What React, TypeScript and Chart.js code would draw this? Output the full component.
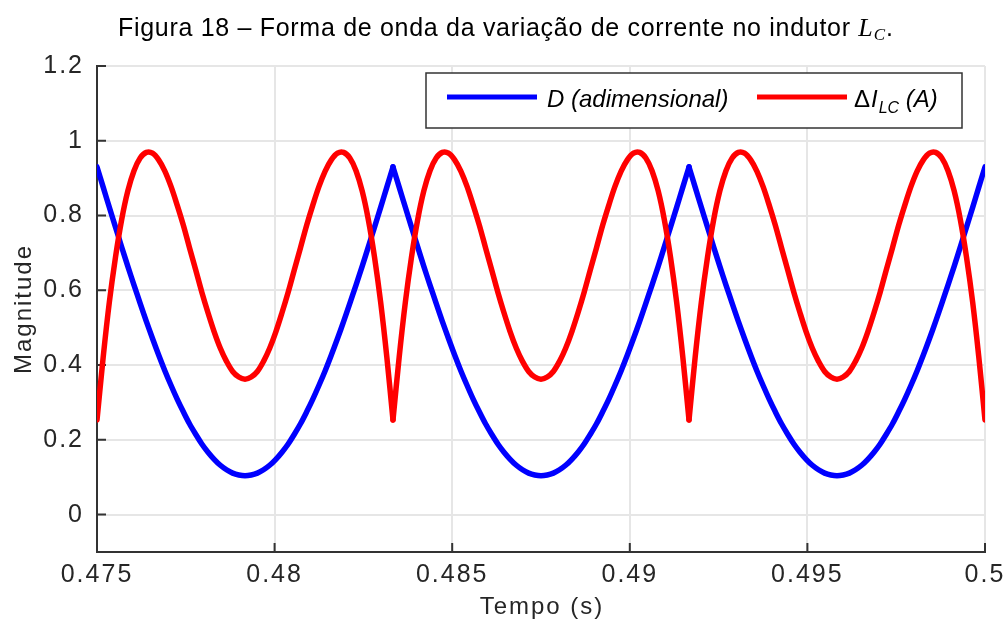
import React, { useEffect, useRef } from "react";
import { Chart, registerables } from "chart.js";

Chart.register(...registerables);

// Sample instants (s), three 1/120 s cycles
const TIME = [
  0.475000, 0.475174, 0.475347, 0.475521, 0.475694, 0.475868, 0.476042, 0.476215,
  0.476389, 0.476563, 0.476736, 0.476910, 0.477083, 0.477257, 0.477431, 0.477604,
  0.477778, 0.477951, 0.478125, 0.478299, 0.478472, 0.478646, 0.478819, 0.478993,
  0.479167, 0.479340, 0.479514, 0.479688, 0.479861, 0.480035, 0.480208, 0.480382,
  0.480556, 0.480729, 0.480903, 0.481076, 0.481250, 0.481424, 0.481597, 0.481771,
  0.481944, 0.482118, 0.482292, 0.482465, 0.482639, 0.482813, 0.482986, 0.483160,
  0.483333,
  0.483507, 0.483681, 0.483854, 0.484028, 0.484201, 0.484375, 0.484549, 0.484722,
  0.484896, 0.485069, 0.485243, 0.485417, 0.485590, 0.485764, 0.485938, 0.486111,
  0.486285, 0.486458, 0.486632, 0.486806, 0.486979, 0.487153, 0.487326, 0.487500,
  0.487674, 0.487847, 0.488021, 0.488194, 0.488368, 0.488542, 0.488715, 0.488889,
  0.489063, 0.489236, 0.489410, 0.489583, 0.489757, 0.489931, 0.490104, 0.490278,
  0.490451, 0.490625, 0.490799, 0.490972, 0.491146, 0.491319, 0.491493, 0.491667,
  0.491840, 0.492014, 0.492188, 0.492361, 0.492535, 0.492708, 0.492882, 0.493056,
  0.493229, 0.493403, 0.493576, 0.493750, 0.493924, 0.494097, 0.494271, 0.494444,
  0.494618, 0.494792, 0.494965, 0.495139, 0.495313, 0.495486, 0.495660, 0.495833,
  0.496007, 0.496181, 0.496354, 0.496528, 0.496701, 0.496875, 0.497049, 0.497222,
  0.497396, 0.497569, 0.497743, 0.497917, 0.498090, 0.498264, 0.498438, 0.498611,
  0.498785, 0.498958, 0.499132, 0.499306, 0.499479, 0.499653, 0.499826, 0.500000,
];

// Duty cycle D (dimensionless)
const D_VALUES = [
  0.930,
  0.876, 0.822, 0.769, 0.716, 0.664, 0.614, 0.565, 0.517,
  0.471, 0.427, 0.385, 0.346, 0.309, 0.275, 0.243, 0.215,
  0.189, 0.167, 0.148, 0.132, 0.120, 0.111, 0.106, 0.104,
  0.106, 0.111, 0.120, 0.132, 0.148, 0.167, 0.189, 0.215,
  0.243, 0.275, 0.309, 0.346, 0.385, 0.427, 0.471, 0.517,
  0.565, 0.614, 0.664, 0.716, 0.769, 0.822, 0.876, 0.930,
  0.876, 0.822, 0.769, 0.716, 0.664, 0.614, 0.565, 0.517,
  0.471, 0.427, 0.385, 0.346, 0.309, 0.275, 0.243, 0.215,
  0.189, 0.167, 0.148, 0.132, 0.120, 0.111, 0.106, 0.104,
  0.106, 0.111, 0.120, 0.132, 0.148, 0.167, 0.189, 0.215,
  0.243, 0.275, 0.309, 0.346, 0.385, 0.427, 0.471, 0.517,
  0.565, 0.614, 0.664, 0.716, 0.769, 0.822, 0.876, 0.930,
  0.876, 0.822, 0.769, 0.716, 0.664, 0.614, 0.565, 0.517,
  0.471, 0.427, 0.385, 0.346, 0.309, 0.275, 0.243, 0.215,
  0.189, 0.167, 0.148, 0.132, 0.120, 0.111, 0.106, 0.104,
  0.106, 0.111, 0.120, 0.132, 0.148, 0.167, 0.189, 0.215,
  0.243, 0.275, 0.309, 0.346, 0.385, 0.427, 0.471, 0.517,
  0.565, 0.614, 0.664, 0.716, 0.769, 0.822, 0.876, 0.930,
];

// Inductor current ripple ΔI_LC (A)
const DI_VALUES = [
  0.253,
  0.421, 0.568, 0.689, 0.789, 0.866, 0.920, 0.954, 0.969,
  0.967, 0.949, 0.919, 0.878, 0.828, 0.774, 0.714, 0.655,
  0.595, 0.540, 0.489, 0.445, 0.410, 0.383, 0.368, 0.362,
  0.368, 0.383, 0.410, 0.445, 0.489, 0.540, 0.595, 0.655,
  0.714, 0.774, 0.828, 0.878, 0.919, 0.949, 0.967, 0.969,
  0.954, 0.920, 0.866, 0.789, 0.689, 0.568, 0.421, 0.253,
  0.421, 0.568, 0.689, 0.789, 0.866, 0.920, 0.954, 0.969,
  0.967, 0.949, 0.919, 0.878, 0.828, 0.774, 0.714, 0.655,
  0.595, 0.540, 0.489, 0.445, 0.410, 0.383, 0.368, 0.362,
  0.368, 0.383, 0.410, 0.445, 0.489, 0.540, 0.595, 0.655,
  0.714, 0.774, 0.828, 0.878, 0.919, 0.949, 0.967, 0.969,
  0.954, 0.920, 0.866, 0.789, 0.689, 0.568, 0.421, 0.253,
  0.421, 0.568, 0.689, 0.789, 0.866, 0.920, 0.954, 0.969,
  0.967, 0.949, 0.919, 0.878, 0.828, 0.774, 0.714, 0.655,
  0.595, 0.540, 0.489, 0.445, 0.410, 0.383, 0.368, 0.362,
  0.368, 0.383, 0.410, 0.445, 0.489, 0.540, 0.595, 0.655,
  0.714, 0.774, 0.828, 0.878, 0.919, 0.949, 0.967, 0.969,
  0.954, 0.920, 0.866, 0.789, 0.689, 0.568, 0.421, 0.253,
];

// Sample indices of the commutation instants (sharp corners of both waveforms)
const CORNER_INDICES = [0, 48, 96, 144];

const X_TICKS = [0.475, 0.48, 0.485, 0.49, 0.495, 0.5];
const X_TICK_LABELS = ["0.475", "0.48", "0.485", "0.49", "0.495", "0.5"];
const Y_TICKS = [0, 0.2, 0.4, 0.6, 0.8, 1, 1.2];
const Y_TICK_LABELS = ["0", "0.2", "0.4", "0.6", "0.8", "1", "1.2"];

const SANS = '"Liberation Sans", Arial, Helvetica, sans-serif';
const SERIF = '"Liberation Serif", "Times New Roman", serif';
const AXIS_COLOR = "#333333";
const TEXT_COLOR = "#262626";

// One smooth arc per cycle so the corners stay sharp
function arcs(values: number[], label: string, color: string, order: number) {
  const out: any[] = [];
  for (let c = 0; c < CORNER_INDICES.length - 1; c++) {
    const a = CORNER_INDICES[c];
    const b = CORNER_INDICES[c + 1];
    out.push({
      label,
      data: TIME.slice(a, b + 1).map((t, i) => ({ x: t, y: values[a + i] })),
      borderColor: color,
      borderWidth: 5.5,
      pointRadius: 0,
      tension: 0.35,
      fill: false,
      borderJoinStyle: "round",
      borderCapStyle: "round",
      order,
    });
  }
  return out;
}

const decorations = {
  id: "decorations",
  beforeDraw(chart: any) {
    chart.ctx.letterSpacing = "2px";
  },
  beforeDatasetsDraw(chart: any) {
    const { ctx, chartArea, scales } = chart;
    const len = 9;
    ctx.save();
    ctx.strokeStyle = AXIS_COLOR;
    ctx.lineWidth = 2;
    ctx.beginPath();
    for (const v of Y_TICKS) {
      const y = scales.y.getPixelForValue(v);
      ctx.moveTo(chartArea.left, y);
      ctx.lineTo(chartArea.left + len, y);
    }
    for (const v of X_TICKS) {
      const x = scales.x.getPixelForValue(v);
      ctx.moveTo(x, chartArea.bottom);
      ctx.lineTo(x, chartArea.bottom - len);
    }
    ctx.stroke();
    ctx.restore();
  },
  afterDraw(chart: any) {
    const { ctx, chartArea } = chart;
    ctx.save();

    // Axis titles
    ctx.letterSpacing = "2px";
    ctx.fillStyle = TEXT_COLOR;
    ctx.font = `24px ${SANS}`;
    ctx.textAlign = "center";
    ctx.textBaseline = "alphabetic";
    ctx.fillText("Tempo (s)", (chartArea.left + chartArea.right) / 2 + 1, 614);
    ctx.save();
    ctx.translate(31, (chartArea.top + chartArea.bottom) / 2);
    ctx.rotate(-Math.PI / 2);
    ctx.fillText("Magnitude", 0, 0);
    ctx.restore();

    // Figure caption
    ctx.textAlign = "left";
    ctx.fillStyle = "#000000";
    const capMain = "Figura 18 \u2013 Forma de onda da varia\u00e7\u00e3o de corrente no indutor ";
    const capSpacing = "0.7px";
    ctx.letterSpacing = capSpacing;
    ctx.font = `25px ${SANS}`;
    const wMain = ctx.measureText(capMain).width;
    ctx.letterSpacing = "0px";
    ctx.font = `italic 26px ${SERIF}`;
    const wL = ctx.measureText("L").width;
    ctx.font = `italic 17px ${SERIF}`;
    const wC = ctx.measureText("C").width;
    ctx.font = `25px ${SANS}`;
    const wDot = ctx.measureText(".").width;
    const total = wMain + wL + 1 + wC + wDot;
    let cx = 505 - total / 2;
    const base = 36;
    ctx.letterSpacing = capSpacing;
    ctx.font = `25px ${SANS}`;
    ctx.fillText(capMain, cx, base);
    cx += wMain;
    ctx.letterSpacing = "0px";
    ctx.font = `italic 26px ${SERIF}`;
    ctx.fillText("L", cx, base);
    cx += wL + 1;
    ctx.font = `italic 17px ${SERIF}`;
    ctx.fillText("C", cx, base + 4);
    cx += wC;
    ctx.font = `25px ${SANS}`;
    ctx.fillText(".", cx + 1, base);

    // Legend
    const bw = 536;
    const bh = 55;
    const bx = chartArea.right - 23 - bw;
    const by = chartArea.top + 7;
    ctx.fillStyle = "#ffffff";
    ctx.fillRect(bx, by, bw, bh);
    ctx.strokeStyle = AXIS_COLOR;
    ctx.lineWidth = 1.5;
    ctx.strokeRect(bx, by, bw, bh);

    const ly = by + 24;
    ctx.lineWidth = 5;
    ctx.lineCap = "butt";
    ctx.strokeStyle = "#0000ff";
    ctx.beginPath();
    ctx.moveTo(bx + 21, ly);
    ctx.lineTo(bx + 111, ly);
    ctx.stroke();
    ctx.strokeStyle = "#ff0000";
    ctx.beginPath();
    ctx.moveTo(bx + 331, ly);
    ctx.lineTo(bx + 421, ly);
    ctx.stroke();

    const tb = by + 34;
    ctx.fillStyle = "#000000";
    ctx.font = `italic 24px ${SANS}`;
    ctx.fillText("D (adimensional)", bx + 121, tb);

    let tx = bx + 428;
    ctx.font = `24px ${SANS}`;
    ctx.fillText("\u0394", tx, tb);
    tx += ctx.measureText("\u0394").width + 1;
    ctx.font = `italic 24px ${SANS}`;
    ctx.fillText("I", tx, tb);
    tx += ctx.measureText("I").width + 1;
    ctx.font = `italic 16px ${SANS}`;
    ctx.fillText("LC", tx, tb + 6);
    tx += ctx.measureText("LC").width;
    ctx.font = `italic 24px ${SANS}`;
    ctx.fillText(" (A)", tx, tb);

    ctx.restore();
  },
};

export default function App() {
  const canvasRef = useRef<HTMLCanvasElement | null>(null);

  useEffect(() => {
    const canvas = canvasRef.current;
    if (!canvas) return;
    const chart = new Chart(canvas, {
      type: "line",
      data: {
        datasets: [
          ...arcs(D_VALUES, "D (adimensional)", "#0000ff", 1),
          ...arcs(DI_VALUES, "\u0394I_LC (A)", "#ff0000", 0),
        ],
      },
      options: {
        responsive: false,
        maintainAspectRatio: false,
        devicePixelRatio: 1,
        animation: false,
        layout: { padding: { top: 66, right: 19, left: 0, bottom: 0 } },
        plugins: {
          legend: { display: false },
          tooltip: { enabled: false },
          title: { display: false },
        },
        scales: {
          x: {
            type: "linear",
            min: 0.475,
            max: 0.5,
            afterBuildTicks: (scale: any) => {
              scale.ticks = X_TICKS.map((v) => ({ value: v }));
            },
            afterFit: (scale: any) => {
              scale.height = 70;
              scale.paddingLeft = 0;
              scale.paddingRight = 0;
            },
            ticks: {
              callback: (_v: any, i: number) => X_TICK_LABELS[i],
              color: TEXT_COLOR,
              font: { family: SANS, size: 25 },
              padding: 8,
              maxRotation: 0,
              autoSkip: false,
            },
            grid: { color: "#e6e6e6", lineWidth: 2, drawTicks: false },
            border: { color: AXIS_COLOR, width: 2 },
          },
          y: {
            type: "linear",
            min: -0.1,
            max: 1.2,
            afterBuildTicks: (scale: any) => {
              scale.ticks = Y_TICKS.map((v) => ({ value: v }));
            },
            afterFit: (scale: any) => {
              scale.width = 97;
              scale.paddingTop = 0;
              scale.paddingBottom = 0;
            },
            ticks: {
              callback: (_v: any, i: number) => Y_TICK_LABELS[i],
              color: TEXT_COLOR,
              font: { family: SANS, size: 25 },
              padding: 13,
              autoSkip: false,
            },
            grid: { color: "#e6e6e6", lineWidth: 2, drawTicks: false },
            border: { color: AXIS_COLOR, width: 2 },
          },
        },
      },
      plugins: [decorations],
    } as any);
    return () => chart.destroy();
  }, []);

  return (
    <div style={{ position: "absolute", left: 0, top: 0, width: 1004, height: 622, background: "#ffffff" }}>
      <canvas ref={canvasRef} width={1004} height={622} style={{ display: "block", width: 1004, height: 622 }} />
    </div>
  );
}
